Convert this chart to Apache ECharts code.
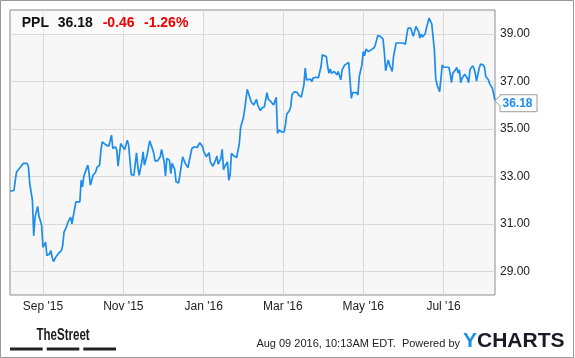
<!DOCTYPE html>
<html><head><meta charset="utf-8">
<script src="https://cdn.jsdelivr.net/npm/echarts@6/dist/echarts.min.js"></script>
<style>html,body{margin:0;padding:0;background:#fff}#c{width:575px;height:358px}#err{position:absolute;left:0;top:0;font:10px monospace;color:red;white-space:pre}</style>
</head><body><div id="c"></div><div id="err"></div>
<script>
// ---- data ----
const dates = [
'2015-08-07','2015-08-10','2015-08-11','2015-08-12','2015-08-13','2015-08-15','2015-08-17','2015-08-18','2015-08-20','2015-08-21',
'2015-08-22','2015-08-24','2015-08-25','2015-08-26','2015-08-28','2015-08-29','2015-08-30','2015-08-31','2015-09-01','2015-09-03',
'2015-09-04','2015-09-06','2015-09-07','2015-09-08','2015-09-09','2015-09-11','2015-09-13','2015-09-15','2015-09-16','2015-09-17',
'2015-09-19','2015-09-20','2015-09-22','2015-09-23','2015-09-24','2015-09-26','2015-09-27','2015-09-29','2015-09-30','2015-10-01',
'2015-10-02','2015-10-05','2015-10-06','2015-10-07','2015-10-09','2015-10-11','2015-10-12','2015-10-14','2015-10-15','2015-10-16',
'2015-10-19','2015-10-21','2015-10-23','2015-10-24','2015-10-25','2015-10-26','2015-10-27','2015-10-28','2015-10-30','2015-10-31',
'2015-11-02','2015-11-04','2015-11-05','2015-11-06','2015-11-07','2015-11-09','2015-11-10','2015-11-11','2015-11-12','2015-11-13',
'2015-11-15','2015-11-16','2015-11-17','2015-11-19','2015-11-21','2015-11-23','2015-11-24','2015-11-25','2015-11-27','2015-11-29',
'2015-11-30','2015-12-02','2015-12-03','2015-12-04','2015-12-06','2015-12-07','2015-12-08','2015-12-10','2015-12-11','2015-12-13',
'2015-12-14','2015-12-16','2015-12-18','2015-12-20','2015-12-21','2015-12-23','2015-12-25','2015-12-27','2015-12-28','2015-12-29',
'2015-12-31','2016-01-01','2016-01-03','2016-01-05','2016-01-06','2016-01-08','2016-01-10','2016-01-11','2016-01-12','2016-01-14',
'2016-01-15','2016-01-16','2016-01-17','2016-01-19','2016-01-20','2016-01-21','2016-01-22','2016-01-24','2016-01-26','2016-01-27',
'2016-01-28','2016-01-29','2016-01-31','2016-02-01','2016-02-03','2016-02-04','2016-02-06','2016-02-07','2016-02-08','2016-02-10',
'2016-02-11','2016-02-13','2016-02-14','2016-02-16','2016-02-17','2016-02-18','2016-02-19','2016-02-21','2016-02-22','2016-02-23',
'2016-02-24','2016-02-25','2016-02-26','2016-02-27','2016-02-29','2016-03-01','2016-03-02','2016-03-03','2016-03-04','2016-03-06',
'2016-03-07','2016-03-08','2016-03-10','2016-03-12','2016-03-13','2016-03-15','2016-03-17','2016-03-18','2016-03-19','2016-03-20',
'2016-03-22','2016-03-23','2016-03-24','2016-03-26','2016-03-28','2016-03-30','2016-03-31','2016-04-01','2016-04-03','2016-04-04',
'2016-04-05','2016-04-06','2016-04-07','2016-04-09','2016-04-11','2016-04-12','2016-04-14','2016-04-15','2016-04-17','2016-04-20',
'2016-04-21','2016-04-22','2016-04-23','2016-04-24','2016-04-26','2016-04-27','2016-04-28','2016-04-30','2016-05-01','2016-05-02',
'2016-05-03','2016-05-05','2016-05-07','2016-05-09','2016-05-10','2016-05-12','2016-05-14','2016-05-16','2016-05-17','2016-05-18',
'2016-05-20','2016-05-21','2016-05-23','2016-05-24','2016-05-26','2016-05-27','2016-05-29','2016-05-31','2016-06-02','2016-06-03',
'2016-06-04','2016-06-06','2016-06-07','2016-06-08','2016-06-10','2016-06-11','2016-06-12','2016-06-13','2016-06-14','2016-06-15',
'2016-06-17','2016-06-18','2016-06-20','2016-06-21','2016-06-22','2016-06-23','2016-06-24','2016-06-25','2016-06-26','2016-06-28',
'2016-06-29','2016-06-30','2016-07-01','2016-07-03','2016-07-05','2016-07-06','2016-07-07','2016-07-08','2016-07-10','2016-07-11',
'2016-07-12','2016-07-13','2016-07-14','2016-07-15','2016-07-16','2016-07-17','2016-07-19','2016-07-20','2016-07-21','2016-07-23',
'2016-07-24','2016-07-25','2016-07-26','2016-07-28','2016-07-29','2016-07-31','2016-08-01','2016-08-02','2016-08-04','2016-08-05',
'2016-08-07','2016-08-08','2016-08-09'
];
const prices = [
32.37,32.40,32.83,33.18,33.14,33.39,33.54,33.48,33.54,33.39,
32.69,31.99,30.50,31.28,31.73,31.31,31.14,30.93,30.01,30.23,
29.66,29.73,29.87,29.59,29.41,29.62,29.76,29.87,30.09,30.65,
30.89,31.07,31.28,31.00,31.31,31.92,31.95,31.92,32.83,32.55,
33.00,33.47,33.12,32.62,33.04,33.18,33.37,33.47,34.10,34.45,
34.31,34.27,34.73,34.17,34.24,34.24,34.10,33.42,34.38,34.31,
34.13,34.52,34.31,33.68,33.07,33.04,33.03,33.99,33.39,33.04,
33.60,34.03,33.47,33.89,34.49,34.17,33.99,33.65,33.65,33.82,
34.13,33.60,33.00,33.75,33.68,33.11,33.54,33.28,32.76,32.72,
32.76,33.82,33.54,33.37,33.33,34.17,34.24,34.21,34.17,34.41,
34.25,34.05,33.82,33.99,33.60,33.42,33.68,33.85,33.51,33.75,
34.13,33.28,33.42,33.60,32.83,33.04,33.96,33.85,33.79,33.82,
34.38,35.06,35.44,35.79,36.66,36.63,36.14,36.10,36.00,36.24,
36.00,35.76,35.86,35.93,36.00,36.52,36.24,36.14,36.07,36.00,
35.93,36.33,34.80,34.94,34.87,34.94,34.87,35.16,35.62,35.76,
35.93,36.45,36.56,36.52,36.42,36.33,36.85,37.55,37.06,37.13,
37.09,36.98,37.13,37.17,37.15,37.62,38.11,38.18,38.04,37.62,
37.34,37.51,37.34,37.41,37.27,37.41,37.06,37.48,37.69,37.79,
37.06,36.28,36.52,36.49,36.52,36.42,37.20,37.69,38.25,38.07,
38.35,38.25,38.32,38.40,38.49,38.92,38.89,38.78,38.25,37.44,
37.90,37.69,37.41,38.04,38.61,38.66,38.61,38.61,38.56,38.92,
39.24,39.24,39.24,38.89,39.31,39.28,39.10,38.82,38.99,38.86,
39.00,39.24,39.66,39.62,39.42,39.42,38.32,37.13,36.85,36.56,
36.63,37.69,37.59,37.59,37.59,37.31,36.94,37.34,37.48,37.58,
37.34,37.48,36.94,37.13,37.20,37.30,37.13,36.94,37.48,37.65,
37.55,37.34,37.01,37.55,37.72,37.69,37.59,37.20,37.06,36.89,
36.71,36.63,36.18
];
const axisStart = '2015-08-07';
const axisEnd = '2016-08-09';
const tickDates = ['2015-09-01','2015-11-01','2016-01-01','2016-03-01','2016-05-01','2016-07-01'];
const tickLabels = ["Sep '15","Nov '15","Jan '16","Mar '16","May '16","Jul '16"];
const yMin = 28, yMax = 40;
const tickerSymbol = 'PPL';
const lastPrice = '36.18';
const change = '-0.46';
const changePct = '-1.26%';
const stamp = 'Aug 09 2016, 10:13AM EDT.  Powered by';

try {
const F = 'Liberation Sans, Arial, sans-serif';
const cats = [];
for (let t = Date.parse(axisStart + 'T00:00:00Z'); t <= Date.parse(axisEnd + 'T00:00:00Z'); t += 86400000) {
  cats.push(new Date(t).toISOString().slice(0, 10));
}
const lineColor = '#1c8ced';
const isTick = (i, v) => tickDates.indexOf(String(v)) >= 0 || tickDates.indexOf(cats[i]) >= 0;
const labelOf = v => { const k = tickDates.indexOf(String(v)); return k >= 0 ? tickLabels[k] : ''; };

const chart = echarts.init(document.getElementById('c'), null, {renderer: 'canvas'});
chart.setOption({
  animation: false,
  backgroundColor: '#ffffff',
  grid: {left: 10, top: 10, right: 80, bottom: 63, show: true,
         backgroundColor: '#f7f7f7', borderColor: '#8c8c8c', borderWidth: 1},
  xAxis: {
    type: 'category', data: cats, boundaryGap: false,
    axisLine: {show: false}, axisTick: {show: false},
    axisLabel: {interval: isTick, margin: 6, color: '#222', fontSize: 12, fontFamily: F, formatter: labelOf},
    splitLine: {show: true, interval: isTick, lineStyle: {color: '#d9d9d9', width: 1}}
  },
  yAxis: {
    type: 'value', position: 'right', min: yMin, max: yMax, interval: 1,
    axisLine: {show: false}, axisTick: {show: false},
    axisLabel: {margin: 5, color: '#222', fontSize: 12, fontFamily: F,
                formatter: v => (Math.round(v) % 2 === 1 ? Number(v).toFixed(2) : '')},
    splitLine: {show: true, lineStyle: {color: ['rgba(0,0,0,0)', '#d9d9d9'], width: 1}}
  },
  series: [{
    type: 'line', showSymbol: false, symbol: 'none',
    data: dates.map((d, i) => [d, prices[i]]),
    lineStyle: {color: lineColor, width: 1.7}, z: 5
  }]
});

const lastIdx = dates.length - 1;
const p = chart.convertToPixel({gridIndex: 0}, [cats.indexOf(dates[lastIdx]), prices[lastIdx]]);
const tx = p[0], ty = p[1];

chart.setOption({
  graphic: [
    {id: 'frame', type: 'rect', shape: {x: 0.5, y: 0.5, width: 573, height: 357},
     style: {fill: 'none', stroke: '#9a9a9a', lineWidth: 1}},
    {id: 'hbox', type: 'rect', shape: {x: 11, y: 11, width: 192, height: 23},
     style: {fill: 'rgba(255,255,255,0.35)'}, z: 1},
    {id: 'h1', type: 'text', x: 21.7, y: 23.5, z: 10, style: {text: tickerSymbol, fontSize: 14, fontWeight: 'bold', fontFamily: F, fill: '#111', verticalAlign: 'middle'}},
    {id: 'h2', type: 'text', x: 57.7, y: 23.5, z: 10, style: {text: lastPrice, fontSize: 14, fontWeight: 'bold', fontFamily: F, fill: '#111', verticalAlign: 'middle'}},
    {id: 'h3', type: 'text', x: 102.7, y: 23.5, z: 10, style: {text: change, fontSize: 14, fontWeight: 'bold', fontFamily: F, fill: '#ee0000', verticalAlign: 'middle'}},
    {id: 'h4', type: 'text', x: 144, y: 23.5, z: 10, style: {text: changePct, fontSize: 14, fontWeight: 'bold', fontFamily: F, fill: '#ee0000', verticalAlign: 'middle'}},
    {id: 'ts', type: 'text', x: 36.5, y: 335.5, scaleX: 0.72, style: {text: 'TheStreet', fontSize: 16, fontWeight: 'bold', fontFamily: F, fill: '#1a1a1a', verticalAlign: 'middle'}},
    {id: 'b1', type: 'rect', shape: {x: 10, y: 347.5, width: 32.7, height: 3}, style: {fill: '#222'}},
    {id: 'b2', type: 'rect', shape: {x: 46.7, y: 347.5, width: 32.6, height: 3}, style: {fill: '#222'}},
    {id: 'b3', type: 'rect', shape: {x: 83.3, y: 347.5, width: 32.7, height: 3}, style: {fill: '#222'}},
    {id: 'stamp', type: 'text', x: 460, y: 343.5, style: {text: stamp, fontSize: 11, fontFamily: F, fill: '#222', align: 'right', verticalAlign: 'middle'}},
    {id: 'yc1', type: 'text', x: 463, y: 341.5, style: {text: 'Y', fontSize: 21, fontWeight: 'bold', fontFamily: F, fill: '#1a8fe3', verticalAlign: 'middle'}},
    {id: 'yc2', type: 'text', x: 477, y: 341.5, style: {text: 'CHARTS', fontSize: 21, fontWeight: 'bold', fontFamily: F, fill: '#1b1b28', verticalAlign: 'middle'}},
    {id: 'tag', type: 'polygon', z: 20, shape: {points: [[tx, ty], [tx + 5, ty - 5], [tx + 5, ty - 6], [tx + 42, ty - 6], [tx + 42, ty + 11], [tx + 5, ty + 11], [tx + 5, ty + 5]]},
     style: {fill: '#fff', stroke: '#9a9a9a', lineWidth: 1}},
    {id: 'tagt', type: 'text', z: 21, x: tx + 7.5, y: ty + 2.8, style: {text: lastPrice, fontSize: 12, fontWeight: 'bold', fontFamily: F, fill: lineColor, verticalAlign: 'middle'}}
  ]
});
} catch (e) { document.getElementById('err').textContent = String(e && e.stack || e); }
</script>
</body></html>
